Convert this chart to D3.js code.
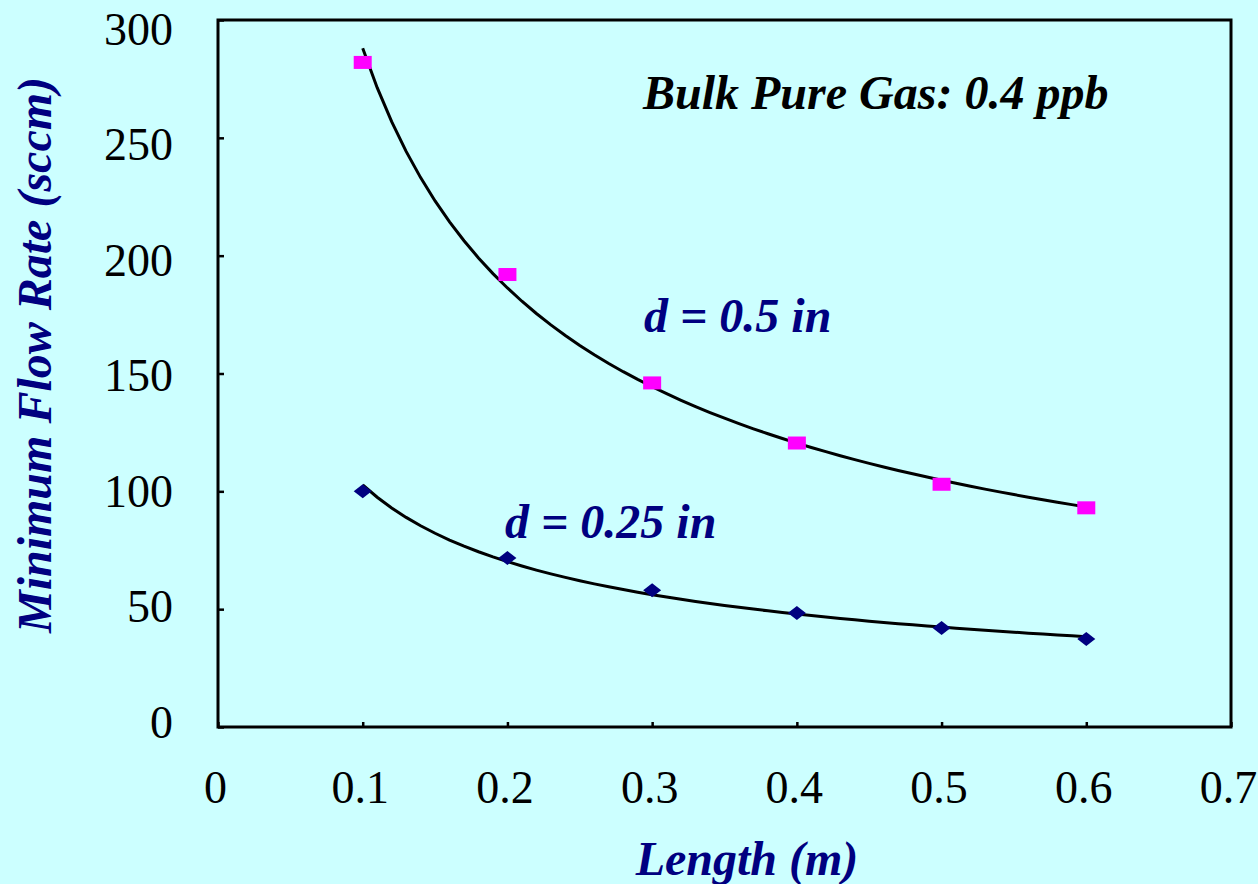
<!DOCTYPE html>
<html>
<head>
<meta charset="utf-8">
<script src="https://cdn.jsdelivr.net/npm/d3@7"></script>
<style>
  html, body { margin: 0; padding: 0; background: #ccffff; }
  svg { display: block; }
  text { font-family: "Times New Roman", "Liberation Serif", serif; }
</style>
</head>
<body>
<div id="chart"></div>
<script>
// values
var lengths = [0.1, 0.2, 0.3, 0.4, 0.5, 0.6];
var flowHalfInch = [282, 192, 146, 120.5, 103, 93];       // d = 0.5 in
var flowQuarterInch = [100, 71.7, 58, 48.4, 42, 37.3];    // d = 0.25 in
var xTicks = [0, 0.1, 0.2, 0.3, 0.4, 0.5, 0.6, 0.7];
var yTicks = [0, 50, 100, 150, 200, 250, 300];

var width = 1258, height = 884;
var plot = {left: 218, top: 20, right: 1231, bottom: 727};

var svg = d3.select("#chart").append("svg")
  .attr("width", width)
  .attr("height", height);

svg.append("rect")
  .attr("width", width)
  .attr("height", height)
  .attr("fill", "#ccffff");

var xScale = d3.scaleLinear().domain([0, 0.7]).range([plot.left, plot.right]);
var yScale = d3.scaleLinear().domain([0, 300]).range([plot.bottom, plot.top]);
// the labels sit a little off their ticks in the original
var yLabelScale = d3.scaleLinear().domain([0, 300]).range([722, 29]);

// power trendline, least squares in log-log like the spreadsheet does
function powerFit(xs, ys) {
  var lx = xs.map(Math.log), ly = ys.map(Math.log);
  var mx = d3.mean(lx), my = d3.mean(ly);
  var sxy = d3.sum(lx, function(v, i) { return (v - mx) * (ly[i] - my); });
  var sxx = d3.sum(lx, function(v) { return (v - mx) * (v - mx); });
  var b = sxy / sxx;
  var a = Math.exp(my - b * mx);
  return function(x) { return a * Math.pow(x, b); };
}

// frame
svg.append("rect")
  .attr("x", plot.left)
  .attr("y", plot.top)
  .attr("width", plot.right - plot.left)
  .attr("height", plot.bottom - plot.top)
  .attr("fill", "none")
  .attr("stroke", "#000")
  .attr("stroke-width", 3);

// y axis ticks (inside)
var yAxis = svg.append("g")
  .attr("transform", "translate(" + plot.left + ",0)")
  .call(d3.axisRight(yScale).tickValues(yTicks).tickSize(6).tickFormat(""));
yAxis.select(".domain").remove();
yAxis.selectAll("line").attr("stroke", "#000").attr("stroke-width", 2.5);

var yLabels = svg.append("g")
  .attr("transform", "translate(" + (plot.left - 45) + ",0)")
  .call(d3.axisLeft(yLabelScale).tickValues(yTicks).tickSize(0).tickPadding(0));
yLabels.select(".domain").remove();
yLabels.selectAll("text")
  .attr("fill", "#000")
  .style("font-size", "46px")
  .attr("dy", "0.33em");

// x axis ticks (inside)
var xAxis = svg.append("g")
  .attr("transform", "translate(0," + plot.bottom + ")")
  .call(d3.axisTop(xScale).tickValues(xTicks).tickSize(5).tickFormat(""));
xAxis.select(".domain").remove();
xAxis.selectAll("line").attr("stroke", "#000").attr("stroke-width", 2.5);

var xLabels = svg.append("g")
  .attr("transform", "translate(-3," + (plot.bottom + 76) + ")")
  .call(d3.axisBottom(xScale).tickValues(xTicks).tickSize(0).tickPadding(0).tickFormat(d3.format("")));
xLabels.select(".domain").remove();
xLabels.selectAll("text")
  .attr("fill", "#000")
  .attr("y", 0)
  .attr("dy", 0)
  .style("font-size", "46px");

// trendlines
var line = d3.line()
  .x(function(d) { return xScale(d[0]); })
  .y(function(d) { return yScale(d[1]); });

[flowHalfInch, flowQuarterInch].forEach(function(ys) {
  var f = powerFit(lengths, ys);
  var pts = d3.range(0, 51).map(function(i) {
    var x = lengths[0] + (lengths[lengths.length - 1] - lengths[0]) * i / 50;
    return [x, f(x)];
  });
  svg.append("path")
    .attr("d", line(pts))
    .attr("fill", "none")
    .attr("stroke", "#000")
    .attr("stroke-width", 3);
});

// markers
svg.selectAll(".sq")
  .data(lengths)
  .enter()
  .append("rect")
  .attr("class", "sq")
  .attr("x", function(d) { return xScale(d) - 9; })
  .attr("y", function(d, i) { return yScale(flowHalfInch[i]) - 6.5; })
  .attr("width", 18)
  .attr("height", 13)
  .attr("fill", "#ff00ff");

svg.selectAll(".dia")
  .data(lengths)
  .enter()
  .append("path")
  .attr("class", "dia")
  .attr("transform", function(d, i) {
    return "translate(" + xScale(d) + "," + yScale(flowQuarterInch[i]) + ")";
  })
  .attr("d", "M-9,0L0,-7L9,0L0,7Z")
  .attr("fill", "#000080");

// annotations
svg.append("text")
  .attr("x", 643)
  .attr("y", 109)
  .style("font-size", "48px")
  .style("font-weight", "bold")
  .style("font-style", "italic")
  .attr("fill", "#000")
  .text("Bulk Pure Gas: 0.4 ppb");

svg.append("text")
  .attr("x", 644)
  .attr("y", 332)
  .style("font-size", "48px")
  .style("font-weight", "bold")
  .style("font-style", "italic")
  .attr("fill", "#000080")
  .text("d = 0.5 in");

svg.append("text")
  .attr("x", 505)
  .attr("y", 538)
  .style("font-size", "48px")
  .style("font-weight", "bold")
  .style("font-style", "italic")
  .attr("fill", "#000080")
  .text("d = 0.25 in");

// axis titles
svg.append("text")
  .attr("x", 747)
  .attr("y", 875)
  .style("text-anchor", "middle")
  .style("font-size", "48px")
  .style("font-weight", "bold")
  .style("font-style", "italic")
  .attr("fill", "#000080")
  .text("Length (m)");

svg.append("text")
  .attr("transform", "translate(51,355) rotate(-90)")
  .style("text-anchor", "middle")
  .style("font-size", "48px")
  .style("font-weight", "bold")
  .style("font-style", "italic")
  .attr("fill", "#000080")
  .text("Minimum Flow Rate (sccm)");
</script>
</body>
</html>
